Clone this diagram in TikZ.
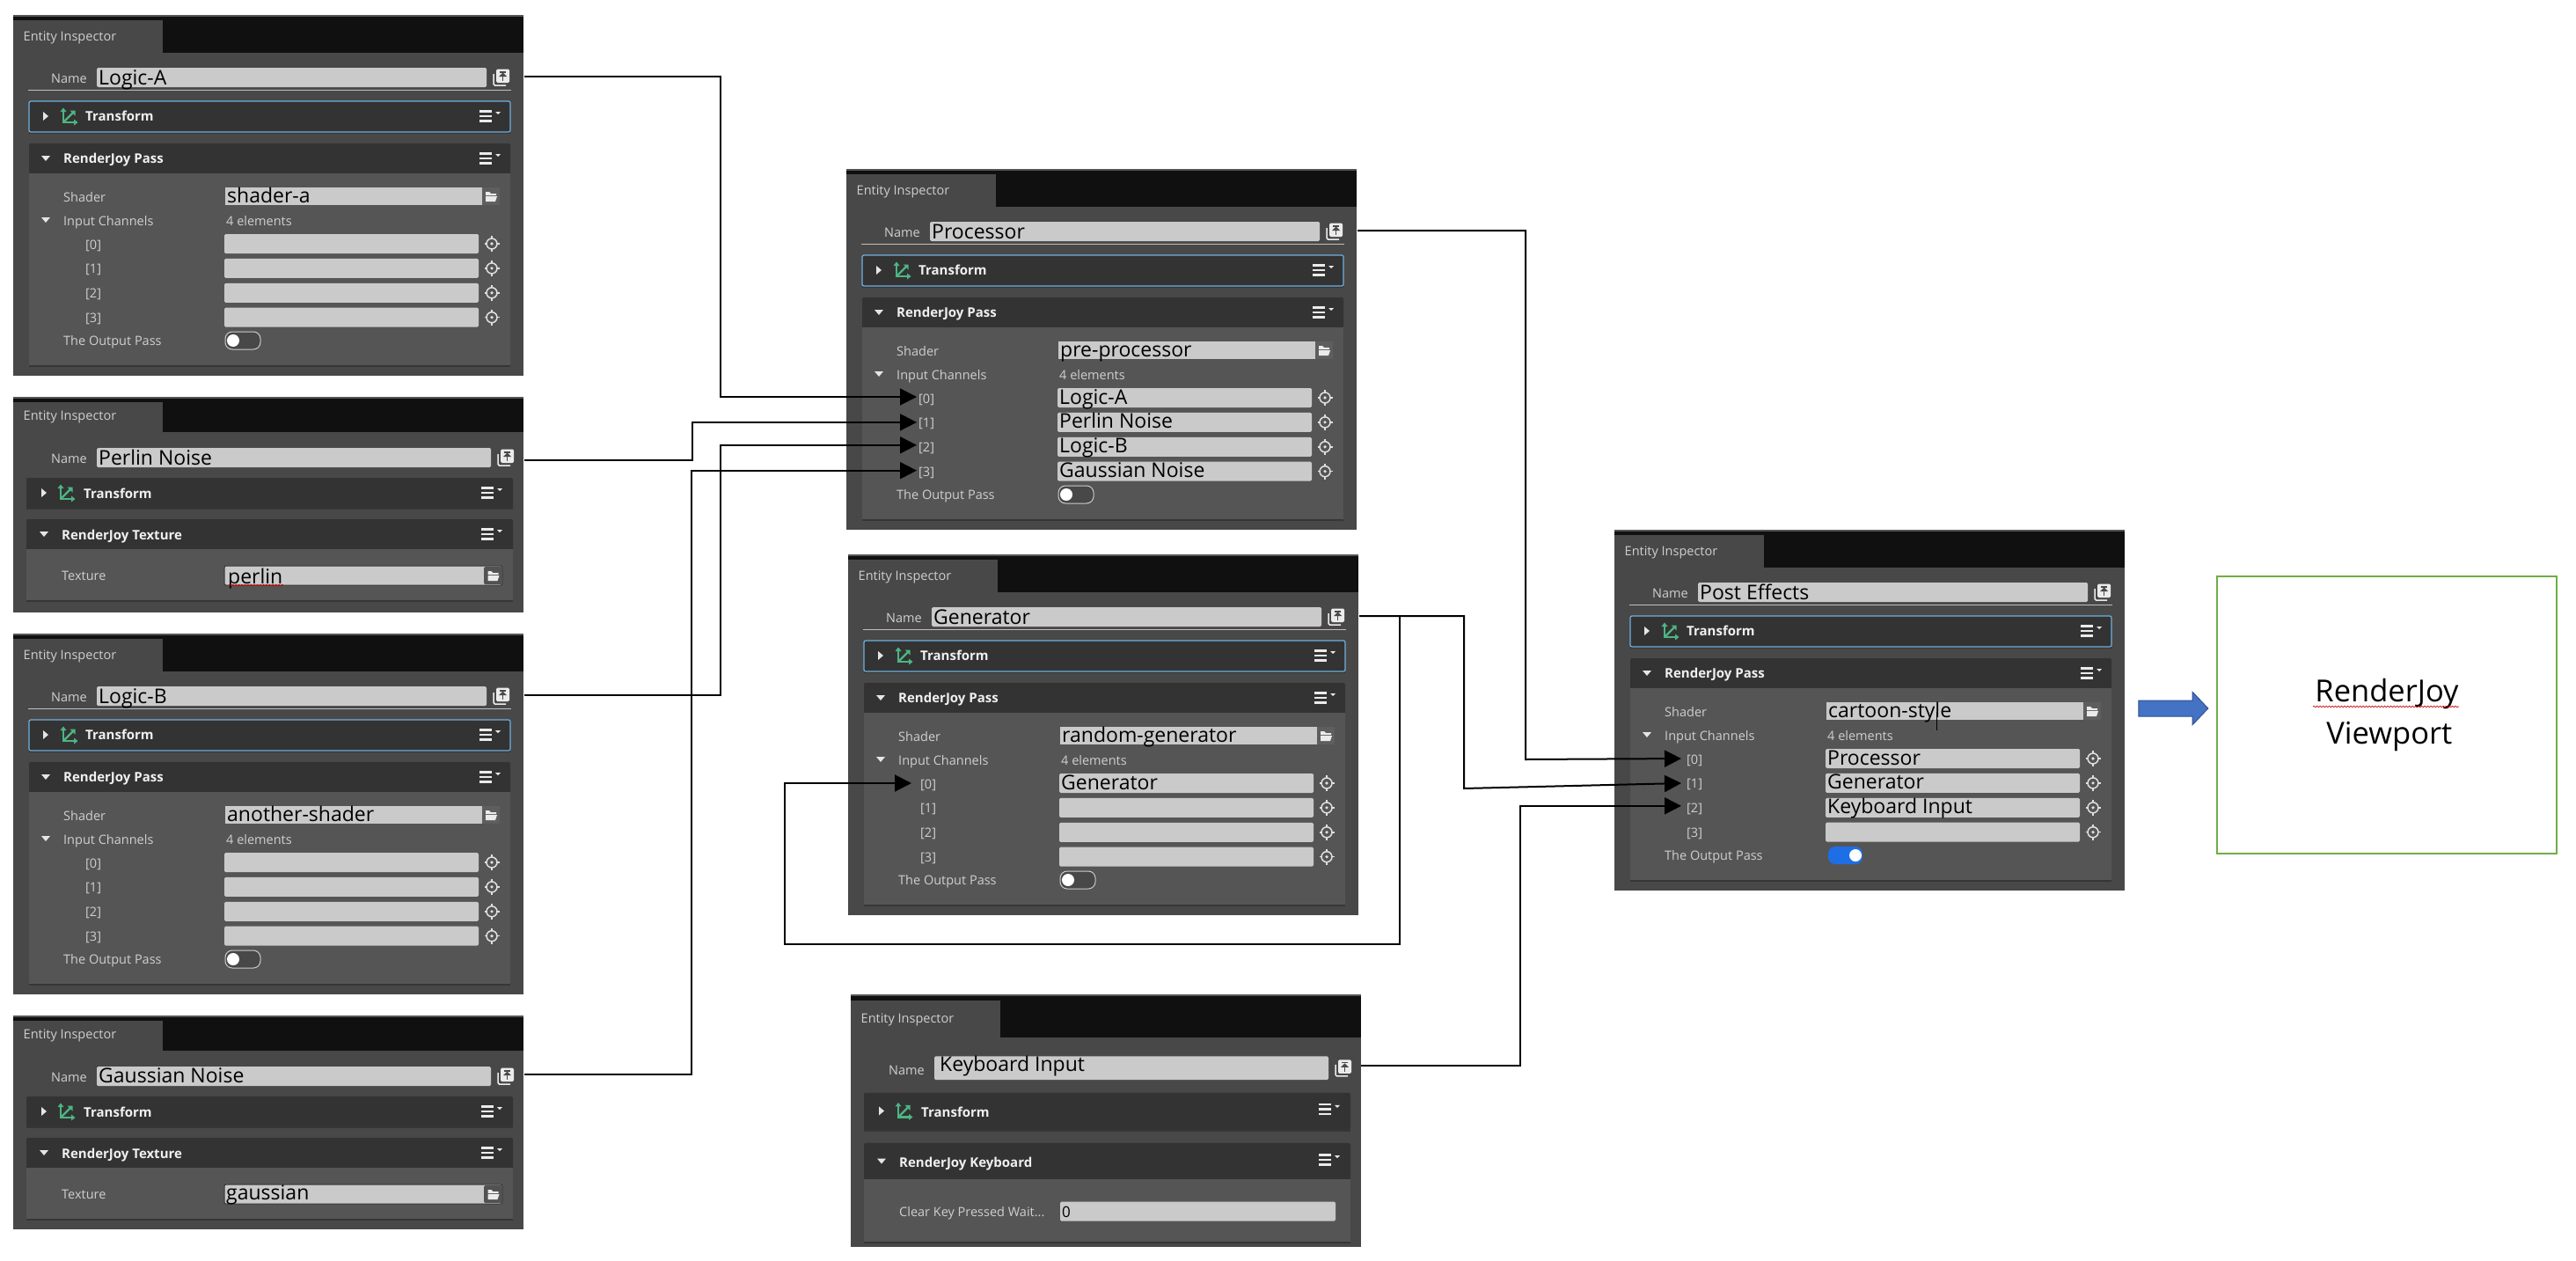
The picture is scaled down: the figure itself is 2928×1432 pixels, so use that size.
\documentclass[tikz,border=0pt]{standalone}
\usepackage{xcolor}
\usepackage{fontspec}
\usepackage{tikz}
\usetikzlibrary{arrows.meta,shapes.arrows,decorations.pathmorphing}

\newfontfamily\uifont{Open Sans}

\definecolor{panelbg}{HTML}{484848}
\definecolor{stripblack}{HTML}{101010}
\definecolor{cardbar}{HTML}{333333}
\definecolor{cardbody}{HTML}{555555}
\definecolor{cardshadow}{HTML}{363636}
\definecolor{fieldgray}{HTML}{CACACA}
\definecolor{labelgray}{HTML}{CFCFCF}
\definecolor{focusblue}{HTML}{6FB0E0}
\definecolor{axisgreen}{HTML}{4DB583}
\definecolor{toggleblue}{HTML}{1E6EE6}
\definecolor{viewgreen}{HTML}{70AD47}
\definecolor{arrowblue}{HTML}{4472C4}
\definecolor{arrowedge}{HTML}{2F528F}

\tikzset{
    uilabel/.style={inner sep=0pt, anchor=base west, text=labelgray, font=\uifont\fontsize{14.5}{15}\selectfont},
    uititle/.style={inner sep=0pt, anchor=base west, text=white!94!black, font=\uifont\bfseries\fontsize{15}{15}\selectfont},
    fieldtext/.style={inner sep=0pt, anchor=base west, text=black, font=\uifont\fontsize{23}{24}\selectfont},
    wire/.style={draw=black, line width=2pt, -{Triangle[length=19pt,width=19pt]}},
    fieldbox/.style={fill=fieldgray, rounded corners=1.5pt},
    squiggle/.style={draw=red!80!black, line width=0.7pt, decorate, decoration={snake, amplitude=0.7pt, segment length=3.5pt}},
    rightmark/.pic={\fill[white!90!black] (-3,-5) -- (3,0) -- (-3,5) -- cycle;},
    downmark/.pic={\fill[white!90!black] (-5,-3) -- (5,-3) -- (0,3) -- cycle;},
    axisicon/.pic={
        \draw[axisgreen, line width=2.4pt] (-6,-6) -- (-6,7) -- (7,7);
        \draw[axisgreen, line width=2.4pt] (-6,7) -- (6,-5);
        \fill[axisgreen] (-9.5,-5) -- (-6,-9.5) -- (-2.5,-5) -- cycle;
        \fill[axisgreen] (6,3.5) -- (10.5,7) -- (6,10.5) -- cycle;
        \fill[axisgreen] (1.5,-6.5) -- (7.5,-6.5) -- (7.5,-0.5) -- cycle;
    },
    menuicon/.pic={
        \fill[white!92!black] (0,0) rectangle (14,2.5);
        \fill[white!92!black] (0,5.5) rectangle (14,8);
        \fill[white!92!black] (0,11) rectangle (14,13.5);
        \fill[white!92!black] (18,2) -- (24,2) -- (21,5) -- cycle;
    },
    pinicon/.pic={
        \draw[white!92!black, line width=1.5pt, rounded corners=1.5pt] (-9,-4) -- (-9,9) -- (5,9);
        \fill[white!92!black, rounded corners=1.5pt] (-6,-9.5) rectangle (9,6);
        \fill[panelbg] (-2,-7) rectangle (5,-5.5);
        \fill[panelbg] (-3,-1) -- (6,-1) -- (1.5,-5.5) -- cycle;
        \fill[panelbg] (0.8,-1) rectangle (2.2,4);
    },
    foldericon/.pic={
        \fill[white!92!black] (-6,-5) -- (-2,-5) -- (0,-3) -- (6,-3) -- (6,-1) -- (-6,-1) -- cycle;
        \fill[white!92!black] (-6,0) -- (7,0) -- (5,6) -- (-6,6) -- cycle;
    },
    crossicon/.pic={
        \draw[white!88!black, line width=1.5pt] (0,0) circle (6);
        \draw[white!88!black, line width=1.5pt] (0,-9) -- (0,-6) (0,6) -- (0,9) (-8.5,0) -- (-6,0) (6,0) -- (8.5,0);
        \fill[white!88!black] (0,0) circle (1.8);
    }
}

% Panel frame with its tab
\newcommand{\panelframe}[3]{
    \fill[panelbg] (0,0) rectangle (580,#2);
    \fill[stripblack] (0,0) rectangle (580,#3);
    \fill[cardbody] (0,0) rectangle (580,1.5);
    \fill[panelbg] (0,6) rectangle (170,#3);
    \node[uilabel] (#1-tab) at (11.5,#3-13.5) {Entity Inspector};
}

% Inspector of a pass
\newcommand{\passpanel}[3]{
    \panelframe{#1}{410}{43}
    \node[uilabel] (#1-namelabel) at (43,77) {Name};
    \fill[fieldbox] (95,60) rectangle (538,82);
    \node[fieldtext] (#1-name) at (97,79) {#2};
    \pic at (555,71) {pinicon};
    \draw[white!75!black, line width=1pt] (17,85) -- (566,85);
    \coordinate (#1-out) at (581,70);

    % Transform
    \fill[cardshadow] (18,101) rectangle (565,135);
    \draw[cardbar, fill=cardbar, draw=focusblue, line width=1.2pt, rounded corners=2pt] (18,98) rectangle (565,133);
    \pic at (37,115) {rightmark};
    \pic at (63,115) {axisicon};
    \node[uititle] (#1-transform) at (82,120) {Transform};
    \pic at (530,108) {menuicon};

    % RenderJoy Pass
    \fill[cardshadow] (18,300) rectangle (565,400);
    \fill[cardbar, rounded corners=2pt] (18,146) rectangle (565,182);
    \fill[cardbody] (18,180) rectangle (565,398);
    \node[uititle] (#1-title) at (57,168) {RenderJoy Pass};
    \pic at (37,163) {downmark};
    \pic at (530,156) {menuicon};

    \node[uilabel] (#1-shaderlabel) at (57,212) {Shader};
    \fill[fieldgray] (241,196) rectangle (533,216);
    \fill[white!37!black] (533,196) rectangle (553,216);
    \pic at (543,206) {foldericon};
    \node[fieldtext] (#1-shader) at (243,213) {#3};

    \pic at (37,233) {downmark};
    \node[uilabel] (#1-inputs) at (57,239) {Input Channels};
    \node[uilabel] (#1-count) at (242,239) {4 elements};

    \foreach \k [evaluate=\k as \ry using 260+27.9*\k] in {0,1,2,3} {
        \node[uilabel] (#1-ch\k) at (82,\ry+6) {[\k]};
        \fill[fieldbox] (240,\ry-11) rectangle (529,\ry+11);
        \pic at (544,\ry) {crossicon};
        \coordinate (#1-in\k) at (80,\ry);
    }

    \node[uilabel] (#1-outputlabel) at (57,375) {The Output Pass};
}

% Channel text
\newcommand{\channelvalue}[3]{
    \node[fieldtext] (#1-value#2) at (242,267+27.9*#2) {#3};
}

% Output toggle
\newcommand{\toggleoff}{
    \draw[white!80!black, fill=panelbg, line width=1pt, rounded corners=8pt] (241,360) rectangle (281,380);
    \fill[white] (250,370) circle (7);
}
\newcommand{\toggleon}{
    \fill[toggleblue, rounded corners=8pt] (243,360) rectangle (282,380);
    \fill[white] (274,370) circle (7);
}

% Inspector without channels
\newcommand{\compactpanel}[4]{
    \panelframe{#1}{#2}{40}
    \node[uilabel] (#1-namelabel) at (43,75) {Name};
    \fill[fieldbox] (95,58) rectangle (543,80);
    \pic at (560,69) {pinicon};

    % Transform
    \fill[cardshadow] (15,100) rectangle (568,128);
    \fill[cardbar, rounded corners=2pt] (15,92) rectangle (568,126);
    \pic at (35,109) {rightmark};
    \pic at (60,109) {axisicon};
    \node[uititle] (#1-transform) at (80,115) {Transform};
    \pic at (532,102) {menuicon};

    % Component
    \fill[cardshadow] (15,180) rectangle (568,233);
    \fill[cardbar, rounded corners=2pt] (15,139) rectangle (568,175);
    \fill[cardbody] (15,173) rectangle (568,231);
    \node[uititle] (#1-title) at (55,162) {#3};
    \pic at (35,156) {downmark};
    \pic at (532,149) {menuicon};
    \node[uilabel] (#1-fieldlabel) at (55,208) {#4};
}

% Texture field
\newcommand{\texturefield}{
    \draw[fill=fieldgray, draw=cardshadow, line width=1pt, rounded corners=2pt] (240,192) rectangle (556,214);
    \fill[white!32!black, rounded corners=1.5pt] (535,193) rectangle (556,213);
    \pic at (545.5,203) {foldericon};
}

\begin{document}
\begin{tikzpicture}[x=1pt, y=-1pt]

    \useasboundingbox (0,0) rectangle (2928,1432);
    \fill[white] (0,0) rectangle (2928,1432);

    % Left column
    \begin{scope}[shift={(15,17)}]
        \passpanel{logicA}{Logic-A}{shader-a}
        \toggleoff
    \end{scope}

    \begin{scope}[shift={(15,451)}]
        \compactpanel{perlin}{245}{RenderJoy Texture}{Texture}
        \node[fieldtext] (perlin-name) at (97,77) {Perlin Noise};
        \texturefield
        \node[fieldtext] (perlin-texture) at (244,212) {perlin};
        \draw[squiggle] (245,214) -- (307,214);
        \coordinate (perlin-out) at (581,72);
    \end{scope}

    \begin{scope}[shift={(15,720)}]
        \passpanel{logicB}{Logic-B}{another-shader}
        \toggleoff
    \end{scope}

    \begin{scope}[shift={(15,1154)}]
        \compactpanel{gaussian}{243}{RenderJoy Texture}{Texture}
        \node[fieldtext] (gaussian-name) at (97,76) {Gaussian Noise};
        \texturefield
        \node[fieldtext] (gaussian-texture) at (242,209) {gaussian};
        \coordinate (gaussian-out) at (581,67);
    \end{scope}

    % Middle column
    \begin{scope}[shift={(962,192)}]
        \passpanel{proc}{Processor}{pre-processor}
        \channelvalue{proc}{0}{Logic-A}
        \channelvalue{proc}{1}{Perlin Noise}
        \channelvalue{proc}{2}{Logic-B}
        \channelvalue{proc}{3}{Gaussian Noise}
        \toggleoff
    \end{scope}

    \begin{scope}[shift={(964,630)}]
        \passpanel{gen}{Generator}{random-generator}
        \channelvalue{gen}{0}{Generator}
        \toggleoff
    \end{scope}

    \begin{scope}[shift={(967,1130)}, yscale=1.215]
        \compactpanel{keyboard}{236.5}{RenderJoy Keyboard}{Clear Key Pressed Wait...}
        \node[fieldtext] (keyboard-name) at (101,72) {Keyboard Input};
        \fill[fieldbox] (238,194) rectangle (551,212);
        \node[fieldtext, font=\uifont\fontsize{17}{20}\selectfont] (keyboard-wait) at (240,209) {0};
        \coordinate (keyboard-out) at (580,67);
    \end{scope}

    % Right column
    \begin{scope}[shift={(1835,602)}]
        \passpanel{post}{Post Effects}{cartoon-style}
        \channelvalue{post}{0}{Processor}
        \channelvalue{post}{1}{Generator}
        \channelvalue{post}{2}{Keyboard Input}
        \toggleon
        \draw[black, line width=1pt] (366,207) -- (366,228);
    \end{scope}

    % Viewport
    \node[single arrow, fill=arrowblue, draw=arrowedge, line width=1pt, inner sep=0pt,
        minimum width=36pt, minimum height=79pt, single arrow head extend=9.5pt, single arrow tip angle=93] (postArrow) at (2466,805) {\rule{0pt}{17pt}};
    \node[draw=viewgreen, line width=2.5pt, minimum width=386pt, minimum height=315pt, align=center,
        font=\uifont\fontsize{34.5}{48}\selectfont] (viewport) at (2713,812.5) {RenderJoy\\\,Viewport};
    \draw[squiggle] (2629,803) -- (2795,803);

    % Wires into Processor
    \draw[wire] (logicA-out) -- ++(223,0) |- ([yshift=1pt]proc-in0);
    \draw[wire] (perlin-out) -- ++(191,0) |- (proc-in1);
    \draw[wire] (logicB-out) -- ++(223,0) |- ([yshift=2pt]proc-in2);
    \draw[wire] (gaussian-out) -- ++(190,0) |- ([yshift=1pt]proc-in3);

    % Wires of Generator
    \draw[wire, shorten >=8pt] (gen-out) -- ++(46,0) -- ++(0,373) -- ++(-699.5,0) |- (gen-in0);
    \draw[wire, shorten >=4pt] (gen-out) -- ++(119,0) -- ++(0,196) -- (post-in1);

    % Wires into Post Effects
    \draw[wire, shorten >=4pt] (proc-out) -- ++(191,0) -- ++(0,601) -- (post-in0);
    \draw[wire, shorten >=4pt] (keyboard-out) -- ++(181,0) |- ([yshift=2pt]post-in2);

\end{tikzpicture}
\end{document}
